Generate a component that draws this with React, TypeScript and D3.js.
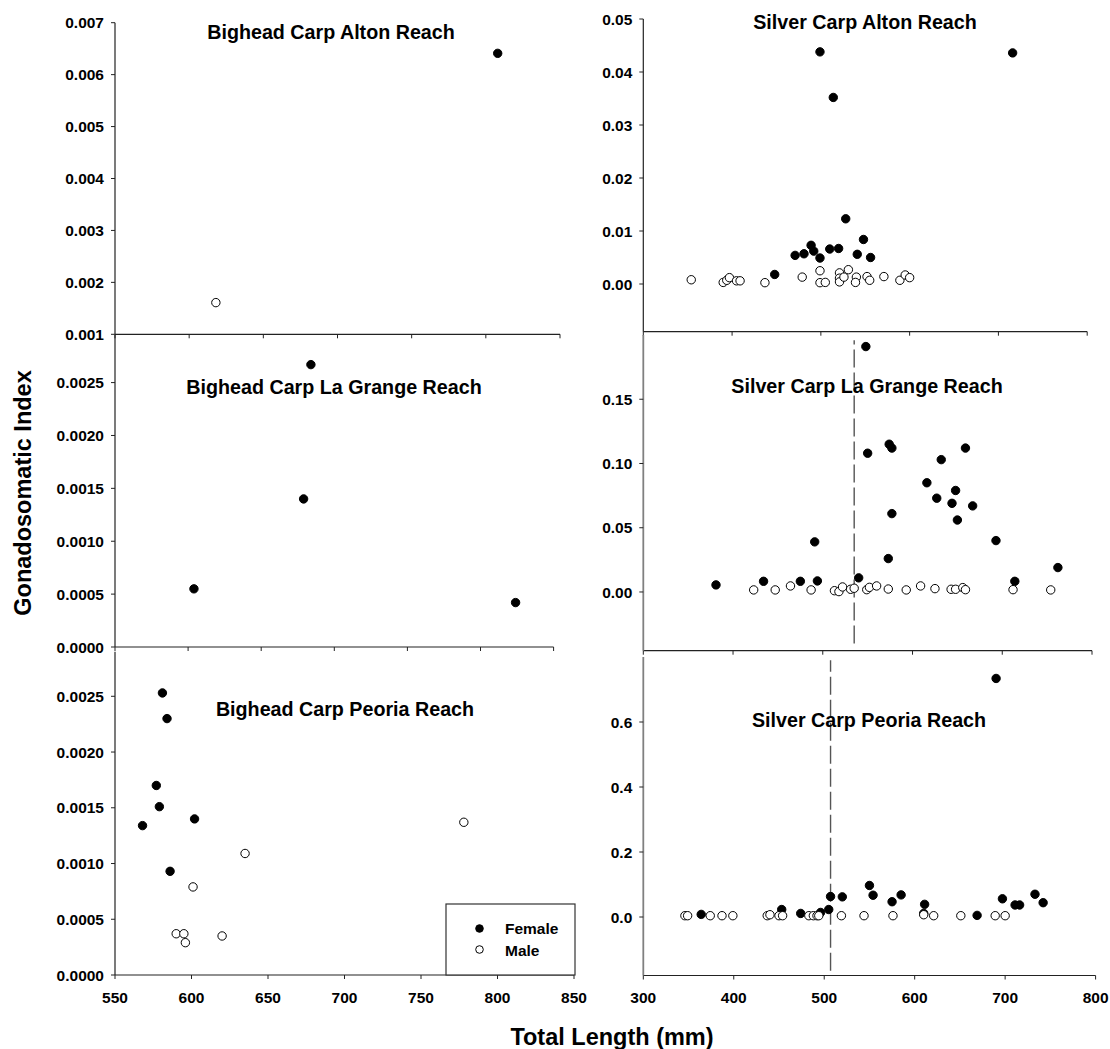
import React from 'react';
import * as d3 from 'd3';

type Pt = [number, number];

// ---------- data (Total length mm, Gonadosomatic index) ----------
const bigheadAltonFemale: Pt[] = [[808, 0.00641]];
const bigheadAltonMale: Pt[] = [[618, 0.00161]];

const silverAltonFemale: Pt[] = [
  [499, 0.0438], [716, 0.0436], [514, 0.0352], [528, 0.0123], [548, 0.0084],
  [489, 0.0073], [510, 0.0066], [520, 0.0067], [492, 0.0062], [481, 0.0057],
  [471, 0.0054], [541, 0.0056], [499, 0.0049], [556, 0.0050], [448, 0.0018],
];
const silverAltonMale: Pt[] = [
  [354, 0.0008], [390, 0.0003], [394, 0.0007], [397, 0.0012], [405, 0.0006],
  [409, 0.0006], [437, 0.00025], [479, 0.0013], [499, 0.0025], [499, 0.00025],
  [505, 0.0003], [521, 0.0021], [521, 0.0011], [521, 0.0004], [526, 0.0013],
  [531, 0.0027], [540, 0.0013], [539, 0.0003], [552, 0.0014], [555, 0.0007],
  [571, 0.0014], [589, 0.0007], [595, 0.0017], [600, 0.0012],
];

const bigheadLaGrangeFemale: Pt[] = [[684, 0.00267], [679, 0.00140], [604, 0.00055], [824, 0.00042]];
const bigheadLaGrangeMale: Pt[] = [];

const silverLaGrangeFemale: Pt[] = [
  [548, 0.191], [550, 0.108], [574, 0.115], [577, 0.112], [659, 0.112],
  [632, 0.103], [616, 0.085], [627, 0.073], [648, 0.079], [644, 0.069],
  [667, 0.067], [577, 0.061], [650, 0.056], [491, 0.039], [693, 0.040],
  [573, 0.026], [762, 0.019], [540, 0.011], [381, 0.0055], [434, 0.0083],
  [475, 0.0083], [494, 0.0086], [714, 0.0083],
];
const silverLaGrangeMale: Pt[] = [
  [423, 0.0016], [447, 0.0016], [464, 0.0047], [487, 0.0016], [513, 0.0010],
  [518, 0.0003], [522, 0.0039], [531, 0.0021], [535, 0.0029], [549, 0.0018],
  [552, 0.0036], [560, 0.0047], [573, 0.0023], [593, 0.0016], [609, 0.0047],
  [625, 0.0026], [643, 0.0021], [648, 0.0021], [656, 0.0034], [659, 0.0018],
  [712, 0.0018], [754, 0.0016],
];
const silverLaGrangeCutoff = 535;

const bigheadPeoriaFemale: Pt[] = [
  [581, 0.00253], [584, 0.00230], [577, 0.00170], [579, 0.00151],
  [568, 0.00134], [602, 0.00140], [586, 0.00093],
];
const bigheadPeoriaMale: Pt[] = [
  [778, 0.00137], [635, 0.00109], [601, 0.00079], [590, 0.00037],
  [595, 0.00037], [596, 0.00029], [620, 0.00035],
];

const silverPeoriaFemale: Pt[] = [
  [690, 0.734], [550, 0.097], [554, 0.067], [585, 0.068], [733, 0.070],
  [697, 0.056], [742, 0.044], [575, 0.047], [507, 0.063], [520, 0.062],
  [611, 0.039], [711, 0.037], [716, 0.037], [505, 0.023], [453, 0.023],
  [496, 0.014], [474, 0.011], [364, 0.008], [669, 0.005], [610, 0.011],
];
const silverPeoriaMale: Pt[] = [
  [346, 0.004], [349, 0.004], [374, 0.004], [387, 0.004], [399, 0.004],
  [437, 0.004], [440, 0.007], [450, 0.004], [454, 0.004], [483, 0.004],
  [488, 0.004], [492, 0.004], [494, 0.004], [519, 0.004], [544, 0.004],
  [576, 0.004], [610, 0.007], [621, 0.004], [651, 0.004], [689, 0.004],
  [700, 0.004],
];
const silverPeoriaCutoff = 507;

const bigheadXTicks = [550, 600, 650, 700, 750, 800, 850];
const silverXTicks = [300, 400, 500, 600, 700, 800];
const altonBigheadYTicks = [0.001, 0.002, 0.003, 0.004, 0.005, 0.006, 0.007];
const altonSilverYTicks = [0.0, 0.01, 0.02, 0.03, 0.04, 0.05];
const bigheadGsiTicks = [0.0, 0.0005, 0.001, 0.0015, 0.002, 0.0025];
const laGrangeSilverYTicks = [0.0, 0.05, 0.1, 0.15];
const peoriaSilverYTicks = [0.0, 0.2, 0.4, 0.6];

const legendLabels = ['Female', 'Male'];

// ---------- layout ----------
const FONT = '"Liberation Sans", Arial, Helvetica, sans-serif';
const TICK_FS = 15.5;
const TITLE_FS = 19.7;
const AXIS_FS = 23.5;

interface PanelCfg {
  title: string;
  titleX: number;
  titleY: number;
  xr: [number, number];
  yr: [number, number]; // bottom, top px
  xDomain: [number, number];
  yDomain: [number, number];
  xTicks: number[];
  yTicks: number[];
  yFmt: string;
  xLabels: boolean;
  female: Pt[];
  male: Pt[];
  cutoff?: number;
  cutoffY?: [number, number];
  yAxisColor: string;
}

const panels: PanelCfg[] = [
  {
    title: 'Bighead Carp Alton Reach', titleX: 331, titleY: 39,
    xr: [115, 560], yr: [334.3, 22.7], xDomain: [550, 850], yDomain: [0.001, 0.007],
    xTicks: bigheadXTicks, yTicks: altonBigheadYTicks, yFmt: '.3f', xLabels: false,
    female: bigheadAltonFemale, male: bigheadAltonMale, yAxisColor: '#222',
  },
  {
    title: 'Silver Carp Alton Reach', titleX: 865, titleY: 29,
    xr: [643.3, 1087.2], yr: [331.7, 19], xDomain: [300, 800], yDomain: [-0.009, 0.05],
    xTicks: silverXTicks, yTicks: altonSilverYTicks, yFmt: '.2f', xLabels: false,
    female: silverAltonFemale, male: silverAltonMale, yAxisColor: '#222',
  },
  {
    title: 'Bighead Carp La Grange Reach', titleX: 334, titleY: 394,
    xr: [115, 553.6], yr: [647, 335], xDomain: [550, 850], yDomain: [0, 0.00295],
    xTicks: bigheadXTicks, yTicks: bigheadGsiTicks, yFmt: '.4f', xLabels: false,
    female: bigheadLaGrangeFemale, male: bigheadLaGrangeMale, yAxisColor: '#222',
  },
  {
    title: 'Silver Carp La Grange Reach', titleX: 867, titleY: 393,
    xr: [643.3, 1092], yr: [650.7, 335], xDomain: [300, 800], yDomain: [-0.0457, 0.2],
    xTicks: silverXTicks, yTicks: laGrangeSilverYTicks, yFmt: '.2f', xLabels: false,
    female: silverLaGrangeFemale, male: silverLaGrangeMale,
    cutoff: silverLaGrangeCutoff, cutoffY: [-0.04, 0.196], yAxisColor: '#808080',
  },
  {
    title: 'Bighead Carp Peoria Reach', titleX: 345, titleY: 716,
    xr: [115, 574], yr: [975, 651.7], xDomain: [550, 850], yDomain: [0, 0.0029],
    xTicks: bigheadXTicks, yTicks: bigheadGsiTicks, yFmt: '.4f', xLabels: true,
    female: bigheadPeoriaFemale, male: bigheadPeoriaMale, yAxisColor: '#222',
  },
  {
    title: 'Silver Carp Peoria Reach', titleX: 869, titleY: 727,
    xr: [643.3, 1095.6], yr: [975.5, 657], xDomain: [300, 800], yDomain: [-0.18, 0.8],
    xTicks: silverXTicks, yTicks: peoriaSilverYTicks, yFmt: '.1f', xLabels: true,
    female: silverPeoriaFemale, male: silverPeoriaMale,
    cutoff: silverPeoriaCutoff, cutoffY: [-0.165, 0.79], yAxisColor: '#808080',
  },
];

const R = 4.2;

function Panel({ cfg }: { cfg: PanelCfg }) {
  const x = d3.scaleLinear().domain(cfg.xDomain).range(cfg.xr);
  const y = d3.scaleLinear().domain(cfg.yDomain).range(cfg.yr);
  const fmt = d3.format(cfg.yFmt);
  const [xa, xb] = cfg.xr;
  const [yb, yt] = cfg.yr;
  return (
    <g>
      {cfg.cutoff !== undefined && cfg.cutoffY && (
        <line
          x1={x(cfg.cutoff)} x2={x(cfg.cutoff)}
          y1={y(cfg.cutoffY[0])} y2={y(cfg.cutoffY[1])}
          stroke="#555" strokeWidth={1.4} strokeDasharray="18,5"
        />
      )}
      {/* axes */}
      <line x1={xa} x2={xb} y1={yb} y2={yb} stroke="#222" strokeWidth={1.2} />
      <line x1={xa} x2={xa} y1={yb} y2={yt} stroke={cfg.yAxisColor} strokeWidth={cfg.yAxisColor === '#222' ? 1.2 : 1.8} />
      {cfg.xTicks.map((t) => (
        <g key={'xt' + t}>
          <line x1={x(t)} x2={x(t)} y1={yb} y2={yb + 4} stroke="#222" strokeWidth={1} />
          {cfg.xLabels && (
            <text x={x(t)} y={yb + 27.5} textAnchor="middle" fontFamily={FONT} fontWeight="bold" fontSize={TICK_FS} fill="#000">
              {t}
            </text>
          )}
        </g>
      ))}
      {cfg.yTicks.map((t) => (
        <g key={'yt' + t}>
          <line x1={xa - 4} x2={xa} y1={y(t)} y2={y(t)} stroke="#222" strokeWidth={1} />
          <text x={xa - 11} y={y(t)} dy="0.36em" textAnchor="end" fontFamily={FONT} fontWeight="bold" fontSize={TICK_FS} fill="#000">
            {fmt(t)}
          </text>
        </g>
      ))}
      <text x={cfg.titleX} y={cfg.titleY} textAnchor="middle" fontFamily={FONT} fontWeight="bold" fontSize={TITLE_FS} fill="#000">
        {cfg.title}
      </text>
      {cfg.female.map((p, i) => (
        <circle key={'f' + i} cx={x(p[0])} cy={y(p[1])} r={R} fill="#000" stroke="#000" strokeWidth={1} />
      ))}
      {cfg.male.map((p, i) => (
        <circle key={'m' + i} cx={x(p[0])} cy={y(p[1])} r={R} fill="#fff" stroke="#000" strokeWidth={1} />
      ))}
    </g>
  );
}

export default function App() {
  return (
    <div style={{ position: 'absolute', left: 0, top: 0 }}>
      <svg width={1110} height={1049} viewBox="0 0 1110 1049" style={{ display: 'block', background: '#fff' }}>
        <rect x={0} y={0} width={1110} height={1049} fill="#fff" />
        {panels.map((p) => (
          <Panel key={p.title} cfg={p} />
        ))}
        {/* legend */}
        <g>
          <rect x={446} y={904} width={129} height={71} fill="#fff" stroke="#333" strokeWidth={1.2} />
          <circle cx={479.5} cy={928.5} r={3.8} fill="#000" stroke="#000" />
          <circle cx={479.5} cy={949.5} r={3.8} fill="#fff" stroke="#000" />
          <text x={505} y={934} fontFamily={FONT} fontWeight="bold" fontSize={TICK_FS} fill="#000">{legendLabels[0]}</text>
          <text x={505} y={955.5} fontFamily={FONT} fontWeight="bold" fontSize={TICK_FS} fill="#000">{legendLabels[1]}</text>
        </g>
        <text
          transform="translate(31,493) rotate(-90)"
          textAnchor="middle" fontFamily={FONT} fontWeight="bold" fontSize={AXIS_FS} fill="#000"
        >
          Gonadosomatic Index
        </text>
        <text x={612} y={1045} textAnchor="middle" fontFamily={FONT} fontWeight="bold" fontSize={AXIS_FS} fill="#000">
          Total Length (mm)
        </text>
      </svg>
    </div>
  );
}
